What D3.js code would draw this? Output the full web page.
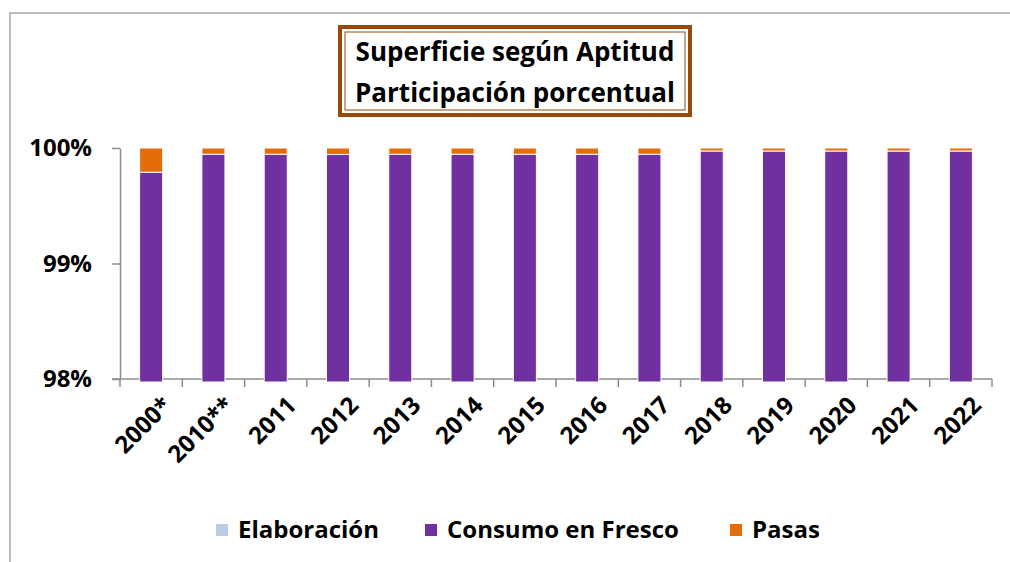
<!DOCTYPE html>
<html>
<head>
<meta charset="utf-8">
<script src="https://cdn.jsdelivr.net/npm/d3@7"></script>
<style>
  body { margin: 0; background: #fff; }
  svg { display: block; font-family: "Open Sans", Lato, sans-serif; font-weight: bold; }
</style>
</head>
<body>
<svg id="chart" width="1010" height="562"></svg>
<script>
// Years shown on the x axis
const years = ['2000*', '2010**', '2011', '2012', '2013', '2014', '2015', '2016', '2017', '2018', '2019', '2020', '2021', '2022'];

// Share of surface per aptitude (percent)
const elaboracion = [0.01, 0.01, 0.01, 0.01, 0.01, 0.01, 0.01, 0.01, 0.01, 0.01, 0.01, 0.01, 0.01, 0.01];
const pasas = [0.21, 0.054, 0.054, 0.056, 0.054, 0.054, 0.054, 0.054, 0.054, 0.026, 0.026, 0.026, 0.026, 0.026];
const consumoFresco = pasas.map((p, i) => 100 - p - elaboracion[i]);

const seriesNames = ['Elaboración', 'Consumo en Fresco', 'Pasas'];
const seriesColors = ['#b9cde5', '#7030a0', '#e46c0a'];
const yTicks = [98, 99, 100];

const rows = years.map((year, i) => ({
  year,
  'Elaboración': elaboracion[i],
  'Consumo en Fresco': consumoFresco[i],
  'Pasas': pasas[i]
}));

const svg = d3.select('#chart');
const margin = { left: 120, right: 992, top: 148, bottom: 379 };

// Outer chart frame (only top and left edges show)
svg.append('path')
  .attr('d', 'M10,562 V13 H1010')
  .attr('fill', 'none')
  .attr('stroke', '#a6a6a6')
  .attr('stroke-width', 1.5);

// Scales
const x = d3.scaleBand()
  .domain(years)
  .range([margin.left, margin.right])
  .paddingInner(0.63)
  .paddingOuter(0.315);

const y = d3.scaleLinear()
  .domain([98, 100])
  .range([margin.bottom, margin.top]);

const color = d3.scaleOrdinal().domain(seriesNames).range(seriesColors);

// Y axis
const yAxis = svg.append('g')
  .attr('transform', `translate(${margin.left},0)`)
  .call(d3.axisLeft(y).tickValues(yTicks).tickFormat(d => d + '%').tickSize(8).tickSizeOuter(0));
yAxis.select('.domain').attr('stroke', '#8c8c8c').attr('stroke-width', 1.5);
yAxis.selectAll('.tick line').attr('stroke', '#8c8c8c').attr('stroke-width', 1.5);
yAxis.selectAll('.tick text')
  .attr('x', -28)
  .attr('font-size', 24)
  .attr('font-weight', 'bold')
  .attr('font-family', '"Open Sans", sans-serif')
  .attr('fill', '#000');

// X axis: baseline plus ticks at category boundaries
const xAxisG = svg.append('g');
xAxisG.append('line')
  .attr('x1', margin.left - 8).attr('x2', margin.right)
  .attr('y1', margin.bottom).attr('y2', margin.bottom)
  .attr('stroke', '#8c8c8c').attr('stroke-width', 1.5);

const step = x.step();
const boundaries = d3.range(years.length + 1).map(i => margin.left + i * step);
xAxisG.selectAll('.xtick')
  .data(boundaries)
  .join('line')
  .attr('class', 'xtick')
  .attr('x1', d => d).attr('x2', d => d)
  .attr('y1', margin.bottom).attr('y2', margin.bottom + 8)
  .attr('stroke', '#8c8c8c').attr('stroke-width', 1.5);

xAxisG.selectAll('.xlabel')
  .data(years)
  .join('text')
  .attr('class', 'xlabel')
  .attr('transform', d => `translate(${x(d) + x.bandwidth() / 2 + 10},${margin.bottom + 16}) rotate(-45)`)
  .attr('text-anchor', 'end')
  .attr('dy', '0.7em')
  .attr('font-size', 24)
  .text(d => d);

// Stacked bars, cut at the 98% floor of the axis, drawn over the baseline
const stacked = d3.stack().keys(seriesNames)(rows);
const clampY = v => y(Math.max(98, Math.min(100, v)));

svg.append('g')
  .selectAll('g')
  .data(stacked)
  .join('g')
  .attr('fill', d => color(d.key))
  .selectAll('rect')
  .data(d => d.filter(s => s[1] > 98))
  .join('rect')
  .attr('x', d => x(d.data.year))
  .attr('width', x.bandwidth())
  .attr('y', d => clampY(d[1]))
  .attr('height', d => clampY(d[0]) - clampY(d[1]) + (d[0] <= 98 ? 3 : 0))
  .attr('stroke', '#fff')
  .attr('stroke-width', 1);

// Title box
const titleBox = { x: 340, y: 27, w: 350, h: 88 };
svg.append('rect')
  .attr('x', titleBox.x).attr('y', titleBox.y)
  .attr('width', titleBox.w).attr('height', titleBox.h)
  .attr('fill', '#fff')
  .attr('stroke', '#984807').attr('stroke-width', 4);
svg.append('rect')
  .attr('x', titleBox.x + 5).attr('y', titleBox.y + 5)
  .attr('width', titleBox.w - 10).attr('height', titleBox.h - 10)
  .attr('fill', 'none')
  .attr('stroke', '#984807').attr('stroke-width', 1);

const titleLines = ['Superficie según Aptitud', 'Participación porcentual'];
svg.selectAll('.title')
  .data(titleLines)
  .join('text')
  .attr('class', 'title')
  .attr('x', titleBox.x + titleBox.w / 2)
  .attr('y', (d, i) => 52 + i * 41)
  .attr('dy', '0.35em')
  .attr('text-anchor', 'middle')
  .attr('font-size', 26)
  .text(d => d);

// Legend
const legendX = [216, 425, 730];
const legend = svg.append('g')
  .selectAll('g')
  .data(seriesNames)
  .join('g')
  .attr('transform', (d, i) => `translate(${legendX[i]},530)`);

legend.append('rect')
  .attr('x', 0).attr('y', -6)
  .attr('width', 12).attr('height', 12)
  .attr('fill', d => color(d));

legend.append('text')
  .attr('x', 22)
  .attr('dy', '0.35em')
  .attr('font-size', 24)
  .text(d => d);
</script>
</body>
</html>
